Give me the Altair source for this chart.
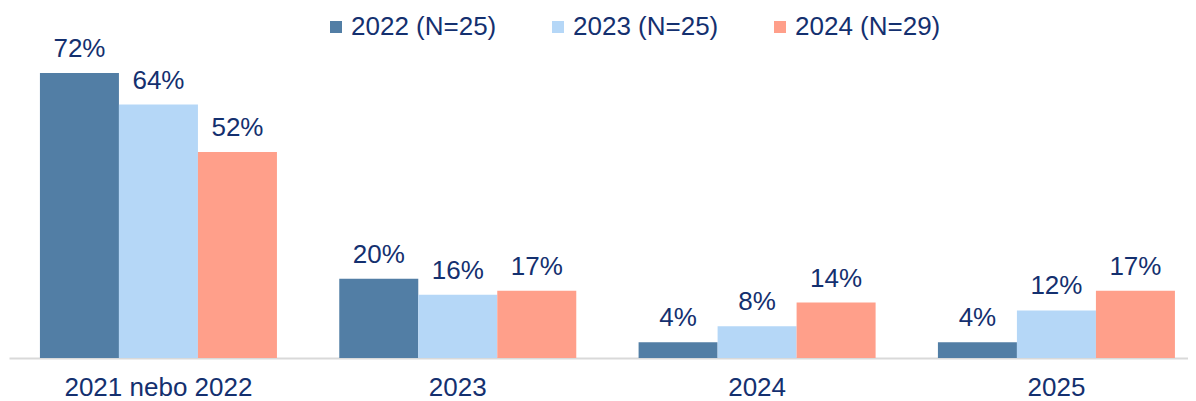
import altair as alt
import pandas as pd

categories = ["2021 nebo 2022", "2023", "2024", "2025"]
series = ["2022 (N=25)", "2023 (N=25)", "2024 (N=29)"]
v2022 = [72, 20, 4, 4]
v2023 = [64, 16, 8, 12]
v2024 = [52, 17, 14, 17]
colors = ["#527EA5", "#B5D7F7", "#FF9F8A"]

rows = []
for s, vals in zip(series, [v2022, v2023, v2024]):
    for c, v in zip(categories, vals):
        rows.append({"cat": c, "series": s, "value": v, "label": f"{v}%"})
df = pd.DataFrame(rows)

FONT = "Liberation Sans"
TXT = "#14306F"

base = alt.Chart(df).encode(
    x=alt.X("cat:N", sort=categories,
            scale=alt.Scale(paddingInner=0.2082, paddingOuter=0.0735, align=0.703),
            axis=alt.Axis(title=None, labelAngle=0, ticks=False, tickSize=0,
                          domainColor="#D9D9D9", domainWidth=2, labelLimit=0,
                          labelFontSize=26, labelFont=FONT, labelColor=TXT,
                          labelBaseline="alphabetic", labelPadding=37)),
    xOffset=alt.XOffset("series:N", sort=series,
                        scale=alt.Scale(paddingInner=0, paddingOuter=0)),
    y=alt.Y("value:Q", scale=alt.Scale(domain=[0, 88.4], nice=False), axis=None),
)

bars = base.mark_bar().encode(
    color=alt.Color("series:N", sort=series,
                    scale=alt.Scale(domain=series, range=colors),
                    legend=alt.Legend(title=None, orient="none", direction="horizontal",
                                      legendX=314, legendY=6, symbolType="square",
                                      symbolSize=144, symbolStrokeWidth=0,
                                      labelFontSize=26, labelFont=FONT, labelColor=TXT,
                                      labelOffset=2, columnPadding=48, padding=0))
)

labels = base.mark_text(baseline="alphabetic", dy=-16, fontSize=26, font=FONT, color=TXT).encode(
    text="label:N"
)

chart = (bars + labels).properties(
    width=1179, height=350,
    padding={"left": 1, "top": 0, "right": 0, "bottom": 43},
    autosize=alt.AutoSizeParams(type="none"),
).configure_view(stroke=None)

chart.save("out.html", embed_options={"renderer": "svg", "actions": False})
